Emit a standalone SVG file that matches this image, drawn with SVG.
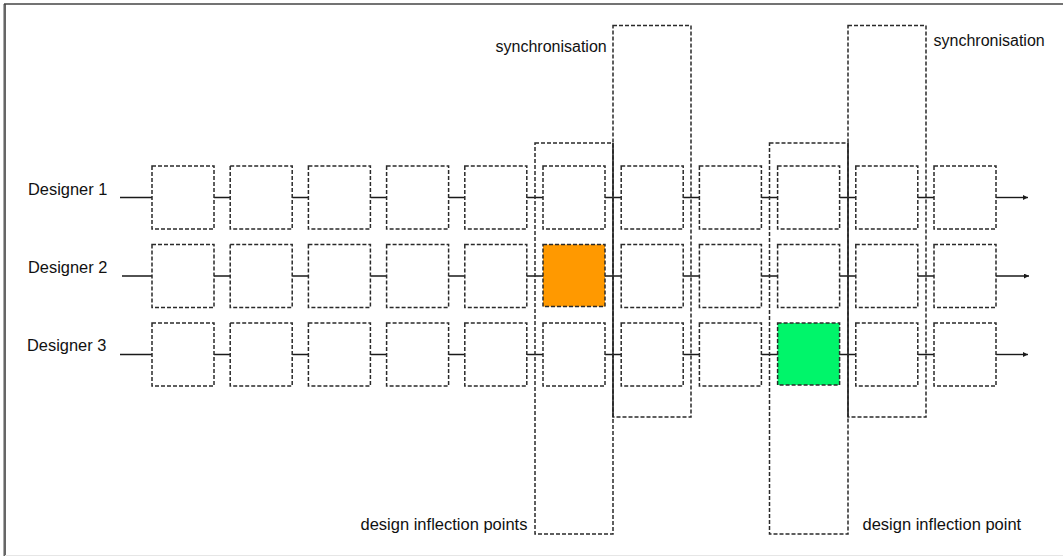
<svg xmlns="http://www.w3.org/2000/svg" width="1063" height="556" viewBox="0 0 1063 556">
<style>
.box{fill:#fff;stroke:#2a2a2a;stroke-width:1.5;stroke-dasharray:4 2}
.zone{fill:none;stroke:#2a2a2a;stroke-width:1.5;stroke-dasharray:4 2}
.con{stroke:#1a1a1a;stroke-width:1.4;fill:none}
.lbl{font-family:"Liberation Sans",Arial,sans-serif;fill:#111}
</style>
<defs>
<marker id="arr" viewBox="0 0 10 10" refX="10" refY="5" markerWidth="5" markerHeight="5" orient="auto" markerUnits="userSpaceOnUse"><path d="M0,0 L10,5 L0,10 z" fill="#1a1a1a"/></marker>
</defs>
<rect x="0" y="0" width="1063" height="556" fill="#fff"/>
<g id="frame">
<line x1="3.5" y1="4" x2="3.5" y2="556" stroke="#aaa" stroke-width="1"/>
<line x1="5" y1="4" x2="5" y2="556" stroke="#333" stroke-width="1.5"/>
<line x1="4" y1="4" x2="1063" y2="4" stroke="#444" stroke-width="1.5"/>
<line x1="5" y1="555.5" x2="1063" y2="555.5" stroke="#e6e6e6" stroke-width="1"/>
</g>
<g id="connectors">
<path class="con" d="M120 197.5H152 M214 197.5H230.2 M292.2 197.5H308.4 M370.4 197.5H386.6 M448.6 197.5H464.8 M526.8 197.5H543 M605 197.5H621.2 M683.2 197.5H699.4 M761.4 197.5H777.6 M839.6 197.5H855.8 M917.8 197.5H934"/>
<path class="con" d="M122 276H152 M214 276H230.2 M292.2 276H308.4 M370.4 276H386.6 M448.6 276H464.8 M526.8 276H543 M605 276H621.2 M683.2 276H699.4 M761.4 276H777.6 M839.6 276H855.8 M917.8 276H934"/>
<path class="con" d="M120 354.5H152 M214 354.5H230.2 M292.2 354.5H308.4 M370.4 354.5H386.6 M448.6 354.5H464.8 M526.8 354.5H543 M605 354.5H621.2 M683.2 354.5H699.4 M761.4 354.5H777.6 M839.6 354.5H855.8 M917.8 354.5H934"/>
<line class="con" x1="996" y1="197.5" x2="1028" y2="197.5" marker-end="url(#arr)"/>
<line class="con" x1="996" y1="276" x2="1029" y2="276" marker-end="url(#arr)"/>
<line class="con" x1="996" y1="354.5" x2="1028" y2="354.5" marker-end="url(#arr)"/>
</g>
<g id="zones">
<rect id="inflection1" class="zone" x="535" y="143" width="78" height="391"/>
<rect id="sync1" class="zone" x="613" y="25.5" width="78" height="391.5"/>
<rect id="inflection2" class="zone" x="769.5" y="143" width="78.5" height="391"/>
<rect id="sync2" class="zone" x="848" y="25.5" width="78" height="391.5"/>
<line x1="613" y1="143" x2="613" y2="417" stroke="#2a2a2a" stroke-width="1.4"/>
<line x1="848" y1="143" x2="848" y2="417" stroke="#2a2a2a" stroke-width="1.4"/>
</g>
<g id="row1">
<g id="n1-1"><rect class="box" x="152" y="166" width="62" height="63"/></g>
<g id="n1-2"><rect class="box" x="230.2" y="166" width="62" height="63"/></g>
<g id="n1-3"><rect class="box" x="308.4" y="166" width="62" height="63"/></g>
<g id="n1-4"><rect class="box" x="386.6" y="166" width="62" height="63"/></g>
<g id="n1-5"><rect class="box" x="464.8" y="166" width="62" height="63"/></g>
<g id="n1-6"><rect class="box" x="543" y="166" width="62" height="63"/></g>
<g id="n1-7"><rect class="box" x="621.2" y="166" width="62" height="63"/></g>
<g id="n1-8"><rect class="box" x="699.4" y="166" width="62" height="63"/></g>
<g id="n1-9"><rect class="box" x="777.6" y="166" width="62" height="63"/></g>
<g id="n1-10"><rect class="box" x="855.8" y="166" width="62" height="63"/></g>
<g id="n1-11"><rect class="box" x="934" y="166" width="62" height="63"/></g>
</g>
<g id="row2">
<g id="n2-1"><rect class="box" x="152" y="244.5" width="62" height="63"/></g>
<g id="n2-2"><rect class="box" x="230.2" y="244.5" width="62" height="63"/></g>
<g id="n2-3"><rect class="box" x="308.4" y="244.5" width="62" height="63"/></g>
<g id="n2-4"><rect class="box" x="386.6" y="244.5" width="62" height="63"/></g>
<g id="n2-5"><rect class="box" x="464.8" y="244.5" width="62" height="63"/></g>
<g id="n2-6"><rect class="box" x="543" y="244.5" width="62" height="62" style="fill:#ff9900"/></g>
<g id="n2-7"><rect class="box" x="621.2" y="244.5" width="62" height="63"/></g>
<g id="n2-8"><rect class="box" x="699.4" y="244.5" width="62" height="63"/></g>
<g id="n2-9"><rect class="box" x="777.6" y="244.5" width="62" height="63"/></g>
<g id="n2-10"><rect class="box" x="855.8" y="244.5" width="62" height="63"/></g>
<g id="n2-11"><rect class="box" x="934" y="244.5" width="62" height="63"/></g>
</g>
<g id="row3">
<g id="n3-1"><rect class="box" x="152" y="323" width="62" height="63"/></g>
<g id="n3-2"><rect class="box" x="230.2" y="323" width="62" height="63"/></g>
<g id="n3-3"><rect class="box" x="308.4" y="323" width="62" height="63"/></g>
<g id="n3-4"><rect class="box" x="386.6" y="323" width="62" height="63"/></g>
<g id="n3-5"><rect class="box" x="464.8" y="323" width="62" height="63"/></g>
<g id="n3-6"><rect class="box" x="543" y="323" width="62" height="63"/></g>
<g id="n3-7"><rect class="box" x="621.2" y="323" width="62" height="63"/></g>
<g id="n3-8"><rect class="box" x="699.4" y="323" width="62" height="63"/></g>
<g id="n3-9"><rect class="box" x="777.6" y="323" width="62" height="62" style="fill:#00f56a"/></g>
<g id="n3-10"><rect class="box" x="855.8" y="323" width="62" height="63"/></g>
<g id="n3-11"><rect class="box" x="934" y="323" width="62" height="63"/></g>
</g>
<g id="labels">
<text class="lbl" x="28" y="195" font-size="16.4">Designer 1</text>
<text class="lbl" x="28" y="273" font-size="16.4">Designer 2</text>
<text class="lbl" x="27" y="351" font-size="16.4">Designer 3</text>
<text class="lbl" x="495.5" y="52" font-size="16">synchronisation</text>
<text class="lbl" x="933.5" y="46" font-size="16">synchronisation</text>
<text class="lbl" x="360.5" y="530" font-size="16.5">design inflection points</text>
<text class="lbl" x="862.5" y="530" font-size="16.5">design inflection point</text>
</g>
</svg>
